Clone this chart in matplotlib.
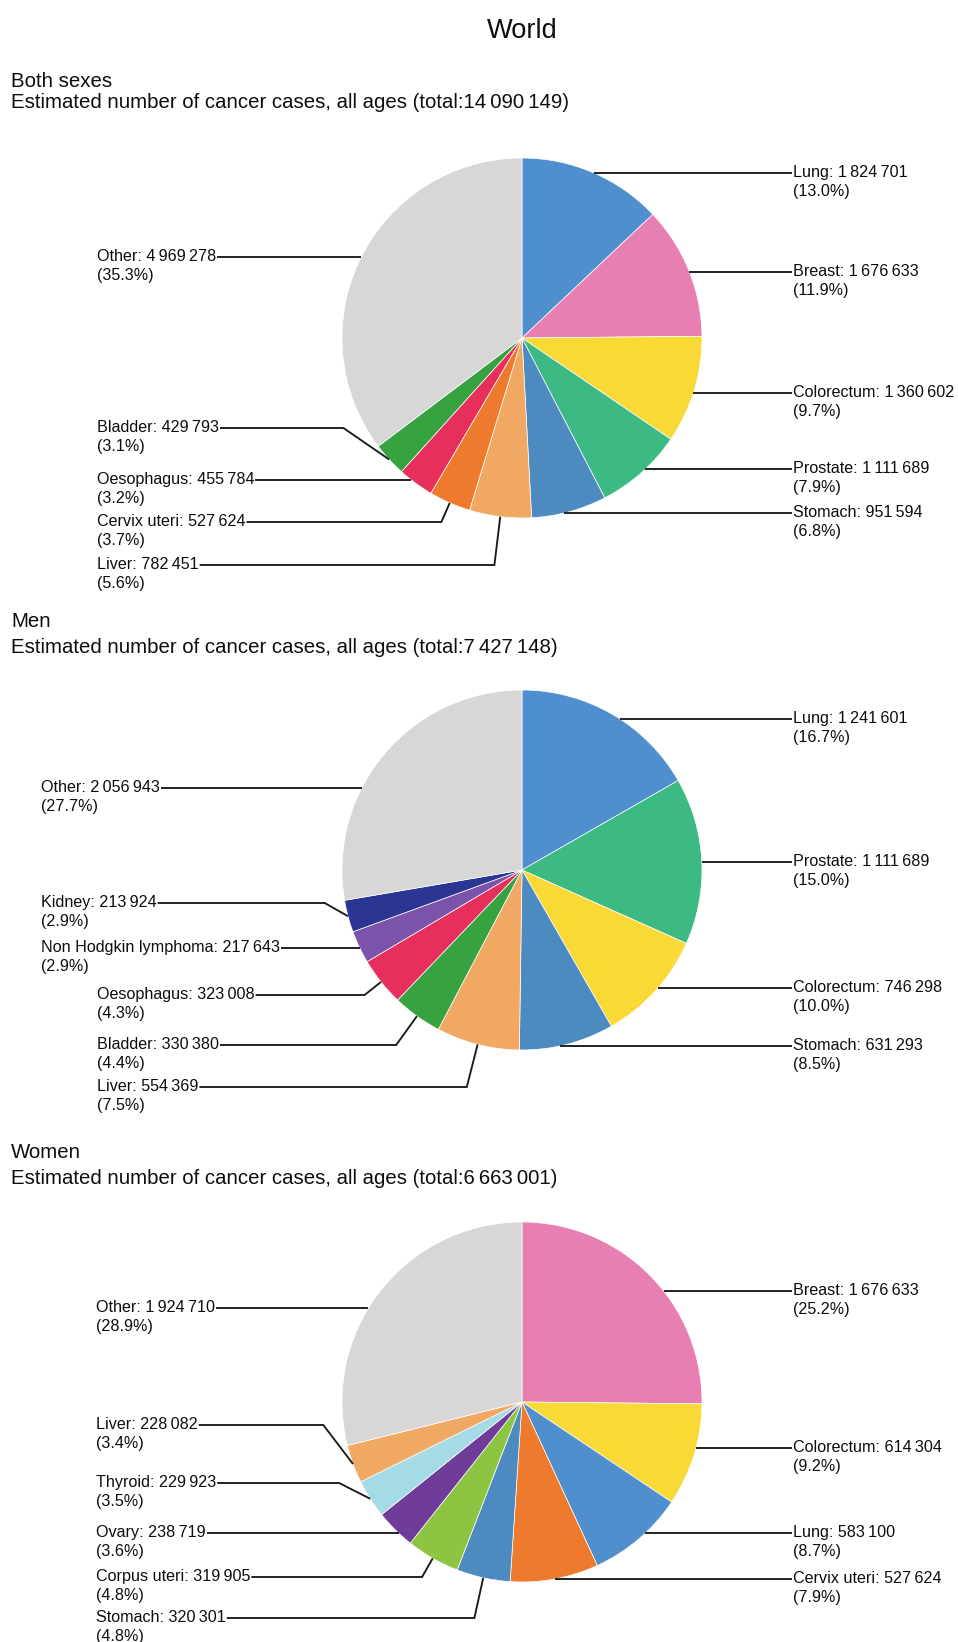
import numpy as np
import matplotlib
matplotlib.use("Agg")
import matplotlib.pyplot as plt

# ---------------- data ----------------
chart_title = "World"
group_names = ["Both sexes", "Men", "Women"]
group_totals = [14090149, 7427148, 6663001]

both_labels = ["Lung", "Breast", "Colorectum", "Prostate", "Stomach", "Liver",
               "Cervix uteri", "Oesophagus", "Bladder", "Other"]
both_values = [1824701, 1676633, 1360602, 1111689, 951594, 782451,
               527624, 455784, 429793, 4969278]
both_pct = [13.0, 11.9, 9.7, 7.9, 6.8, 5.6, 3.7, 3.2, 3.1, 35.3]

men_labels = ["Lung", "Prostate", "Colorectum", "Stomach", "Liver", "Bladder",
              "Oesophagus", "Non Hodgkin lymphoma", "Kidney", "Other"]
men_values = [1241601, 1111689, 746298, 631293, 554369, 330380,
              323008, 217643, 213924, 2056943]
men_pct = [16.7, 15.0, 10.0, 8.5, 7.5, 4.4, 4.3, 2.9, 2.9, 27.7]

women_labels = ["Breast", "Colorectum", "Lung", "Cervix uteri", "Stomach",
                "Corpus uteri", "Ovary", "Thyroid", "Liver", "Other"]
women_values = [1676633, 614304, 583100, 527624, 320301,
                319905, 238719, 229923, 228082, 1924710]
women_pct = [25.2, 9.2, 8.7, 7.9, 4.8, 4.8, 3.6, 3.5, 3.4, 28.9]

# ---------------- styles ----------------
colors = {
    "Lung": "#4f8fcd", "Breast": "#e77fb2", "Colorectum": "#f8d935",
    "Prostate": "#3db984", "Stomach": "#4d8abf", "Liver": "#f1a862",
    "Cervix uteri": "#ee7b2d", "Oesophagus": "#e6305b", "Bladder": "#37a340",
    "Other": "#d7d7d7", "Kidney": "#2b3592", "Non Hodgkin lymphoma": "#7b53aa",
    "Corpus uteri": "#8dc542", "Ovary": "#6f3c99", "Thyroid": "#a5dbe7",
}
FONT = ["Liberation Sans", "DejaVu Sans"]
LINE_COLOR = "#1a1a1a"
TEXT_COLOR = "#0d0d0d"
LABEL_FS = 11.6
HEADER_FS = 14.7
TITLE_FS = 19.6
LINE_W = 1.35

# ---------------- layout (pixels, measured from top) ----------------
W, H = 958, 1642
PIE_CX, PIE_R = 522, 180
pie_cy = [338, 870, 1402]
header_y = [(81, 102), (621, 647), (1152, 1178)]
right_text_x = 793
label_y = [
    [173, 272, 393, 469, 513, 565, 522, 480, 428, 257],
    [719, 862, 988, 1046, 1087, 1045, 995, 948, 903, 788],
    [1291, 1448, 1533, 1579, 1618, 1577, 1533, 1483, 1425, 1308],
]
left_text_x = [
    [97] * 10,
    [97, 97, 97, 97, 97, 97, 97, 41, 41, 41],
    [96] * 10,
]
LINE2_DY = 19.5
MARGIN_DEG = 3.5

groups = [
    (both_labels, both_values, both_pct),
    (men_labels, men_values, men_pct),
    (women_labels, women_values, women_pct),
]


def fmt(n):
    return "{:,}".format(n).replace(",", "\u2009")


def Y(y):
    return H - y


fig = plt.figure(figsize=(W / 100, H / 100), dpi=100)
ax = fig.add_axes([0, 0, 1, 1])
renderer = fig.canvas.get_renderer()

# pies first
all_wedges = []
for gi, (labels, values, pcts) in enumerate(groups):
    wedges, _ = ax.pie(values, colors=[colors[l] for l in labels],
                       startangle=90, counterclock=False,
                       center=(PIE_CX, Y(pie_cy[gi])), radius=PIE_R,
                       wedgeprops=dict(edgecolor="white", linewidth=0.5))
    all_wedges.append(wedges)

ax.set_xlim(0, W)
ax.set_ylim(0, H)
ax.set_aspect("auto")
ax.axis("off")

ax.text(PIE_CX, Y(38), chart_title, ha="center", va="baseline",
        fontsize=TITLE_FS, family=FONT, color=TEXT_COLOR)

for gi, (labels, values, pcts) in enumerate(groups):
    cy = Y(pie_cy[gi])
    wedges = all_wedges[gi]
    hy1, hy2 = header_y[gi]
    ax.text(11, Y(hy1 + 6), group_names[gi], ha="left", va="baseline",
            fontsize=HEADER_FS, family=FONT, color=TEXT_COLOR)
    ax.text(11, Y(hy2 + 6),
            "Estimated number of cancer cases, all ages (total:%s)" % fmt(group_totals[gi]),
            ha="left", va="baseline", fontsize=HEADER_FS, family=FONT, color=TEXT_COLOR)

    for i, (lab, val, pc) in enumerate(zip(labels, values, pcts)):
        w = wedges[i]
        t1, t2 = w.theta1, w.theta2
        mid = np.radians(0.5 * (t1 + t2))
        side = 1 if np.cos(mid) > 0 else -1
        yl = Y(label_y[gi][i])
        line1 = "%s: %s" % (lab, fmt(val))
        line2 = "(%.1f%%)" % pc
        tx0 = right_text_x if side > 0 else left_text_x[gi][i]
        t = ax.text(tx0, yl - 3.5, line1, ha="left", va="baseline",
                    fontsize=LABEL_FS, family=FONT, color=TEXT_COLOR)
        ax.text(tx0, yl - 3.5 - LINE2_DY, line2, ha="left", va="baseline",
                fontsize=LABEL_FS, family=FONT, color=TEXT_COLOR)
        if side > 0:
            xe = tx0 - 1
        else:
            bb = t.get_window_extent(renderer)
            xe = ax.transData.inverted().transform((bb.x1, bb.y0))[0] + 1

        # connector geometry from the wedge
        cx, r = PIE_CX, PIE_R
        dy = yl - cy
        drawn = False
        if abs(dy) < r:
            xi = cx + side * np.sqrt(r * r - dy * dy)
            phi = np.degrees(np.arctan2(dy, xi - cx))
            rel = (phi - t1) % 360
            if MARGIN_DEG <= rel <= (t2 - t1) - MARGIN_DEG:
                ax.plot([xe, xi], [yl, yl], color=LINE_COLOR, lw=LINE_W,
                        solid_capstyle="butt")
                drawn = True
        if not drawn:
            tx, ty = cx + r * np.cos(mid), cy + r * np.sin(mid)
            bend = None
            s = np.sin(mid)
            if abs(s) > 1e-6:
                tt = dy / s
                if tt >= r:
                    bend = cx + tt * np.cos(mid)
            if bend is None:
                r2 = r + 20
                if abs(dy) < r2:
                    bend = cx + side * np.sqrt(r2 * r2 - dy * dy)
                else:
                    bend = tx
            ax.plot([xe, bend, tx], [yl, yl, ty], color=LINE_COLOR, lw=LINE_W,
                    solid_joinstyle="miter", solid_capstyle="butt")

fig.savefig("out.png", dpi=100, facecolor="white")
